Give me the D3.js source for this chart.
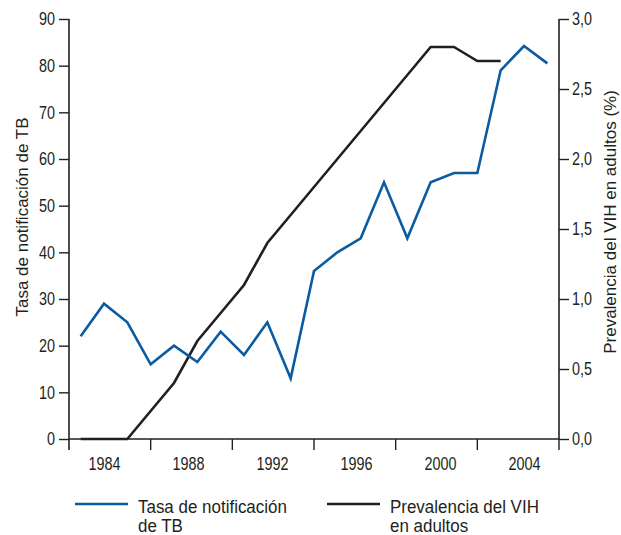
<!DOCTYPE html>
<html>
<head>
<meta charset="utf-8">
<script src="https://cdn.jsdelivr.net/npm/d3@7"></script>
<style>
  body { margin: 0; background: #fff; }
  svg text { font-family: "Liberation Sans", Arial, sans-serif; fill: #231f20; }
</style>
</head>
<body>
<svg class="chart"></svg>
<script>
var years = d3.range(1984, 2005);
var tbRate = [22, 29, 25, 16, 20, 16.5, 23, 18, 25, 13, 36, 40, 43, 55, 43, 55, 57, 57, 79, 84.2, 80.5];
var hivPrev = [0, 0, 0, 0.2, 0.4, 0.7, 0.9, 1.1, 1.4, 1.6, 1.8, 2.0, 2.2, 2.4, 2.6, 2.8, 2.8, 2.7, 2.7, null, null];
var axisLabels = ['1984', '1988', '1992', '1996', '2000', '2004'];
var leftTicks = d3.range(0, 91, 10);
var rightTicks = [0, 0.5, 1, 1.5, 2, 2.5, 3];

var W = 621, H = 535;
var m = { left: 69, right: 559, top: 19, bottom: 439 };
var blue = '#0b5ba1', dark = '#231f20';
var squeeze = 0.8; // the original numbers use a condensed face

var svg = d3.select('svg.chart').attr('width', W).attr('height', H);

var x = d3.scalePoint().domain(years).range([m.left, m.right]).padding(0.5);
// tick marks split the axis into 6 blocks; labels sit on a slightly wider grid
var xBand = d3.scaleBand().domain(axisLabels).range([m.left, m.right]);
var xLab = d3.scalePoint().domain(axisLabels).range([m.left - 7, m.right + 7]).padding(0.5);
var yL = d3.scaleLinear().domain([0, 90]).range([m.bottom, m.top]);
var yR = d3.scaleLinear().domain([0, 3]).range([m.bottom, m.top]);

var comma = function (d) { return d3.format('.1f')(d).replace('.', ','); };

// squeeze text horizontally, keeping its anchor x
var narrow = function (sel, k) {
  sel.each(function () {
    var t = d3.select(this);
    var tx = +(t.attr('x') || 0);
    t.attr('x', tx / k).attr('transform', 'scale(' + k + ',1)');
  });
};

// left axis
var gL = svg.append('g').attr('transform', 'translate(' + m.left + ',0)')
  .call(d3.axisLeft(yL).tickValues(leftTicks).tickSize(10).tickPadding(4).tickSizeOuter(0));
// right axis
var gR = svg.append('g').attr('transform', 'translate(' + m.right + ',0)')
  .call(d3.axisRight(yR).tickValues(rightTicks).tickFormat(comma).tickSize(10).tickPadding(3).tickSizeOuter(0));
// bottom axis
var gB = svg.append('g').attr('transform', 'translate(0,' + m.bottom + ')')
  .call(d3.axisBottom(xLab).tickSize(0).tickPadding(18).tickSizeOuter(0));
gB.select('.domain').attr('d', 'M' + m.left + ',0H' + m.right);
gB.selectAll('line.block').data(axisLabels.slice(1)).enter().append('line')
  .attr('class', 'block')
  .attr('x1', function (d) { return xBand(d); }).attr('x2', function (d) { return xBand(d); })
  .attr('y1', 0).attr('y2', 11)
  .attr('stroke', dark).attr('stroke-width', 1.4);
gB.append('line').attr('x1', m.right).attr('x2', m.right).attr('y1', 0).attr('y2', 11)
  .attr('stroke', dark).attr('stroke-width', 1.4);

[gL, gR, gB].forEach(function (g) {
  g.select('.domain').attr('stroke', dark).attr('stroke-width', 1.6);
  g.selectAll('.tick line').attr('stroke', dark).attr('stroke-width', 1.4);
  g.selectAll('.tick text').attr('font-size', 18).attr('fill', dark)
    .style('font-family', '"Liberation Sans", Arial, sans-serif')
    .call(narrow, squeeze);
});
gL.select('.domain').attr('d', 'M0,' + m.top + 'V' + (m.bottom + 11));
gR.select('.domain').attr('d', 'M0,' + m.top + 'V' + m.bottom);

// axis titles
svg.append('text')
  .attr('transform', 'translate(28,217) rotate(-90)')
  .attr('text-anchor', 'middle').attr('font-size', 17)
  .text('Tasa de notificación de TB');
svg.append('text')
  .attr('transform', 'translate(616,222) rotate(-90)')
  .attr('text-anchor', 'middle').attr('font-size', 17)
  .text('Prevalencia del VIH en adultos (%)');

// series
var tbLine = d3.line().x(function (d, i) { return x(years[i]); }).y(function (d) { return yL(d); });
var hivLine = d3.line()
  .defined(function (d) { return d !== null; })
  .x(function (d, i) { return x(years[i]); }).y(function (d) { return yR(d); });

svg.append('path').datum(hivPrev).attr('d', hivLine)
  .attr('fill', 'none').attr('stroke', dark).attr('stroke-width', 2.6);
svg.append('path').datum(tbRate).attr('d', tbLine)
  .attr('fill', 'none').attr('stroke', blue).attr('stroke-width', 2.6);

// legend
var legend = [
  { color: blue, lines: ['Tasa de notificación', 'de TB'], x: 75 },
  { color: dark, lines: ['Prevalencia del VIH', 'en adultos'], x: 327 }
];
legend.forEach(function (l) {
  var g = svg.append('g').attr('transform', 'translate(' + l.x + ',504)');
  g.append('line').attr('x1', 0).attr('x2', 53).attr('y1', 0).attr('y2', 0)
    .attr('stroke', l.color).attr('stroke-width', 2.6);
  g.selectAll('text').data(l.lines).enter().append('text')
    .attr('x', 63).attr('y', function (d, i) { return 9 + i * 19; })
    .attr('font-size', 17.5).text(function (d) { return d; })
    .call(narrow, 0.97);
});
</script>
</body>
</html>
